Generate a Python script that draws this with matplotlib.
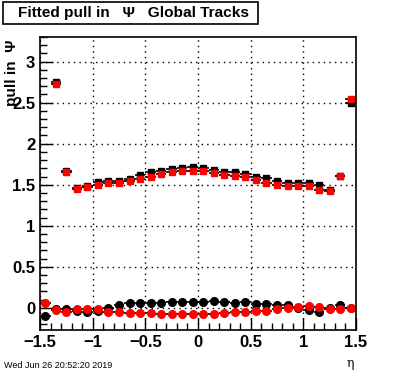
import numpy as np
import matplotlib
matplotlib.use("Agg")
import matplotlib.pyplot as plt
from matplotlib.ticker import MultipleLocator
from matplotlib.patches import Rectangle

# eta bin centres (30 bins from -1.5 to 1.5)
eta = np.round(np.arange(-1.45, 1.5, 0.1), 2)

# sigma of pull (upper band), first bin empty
sigma_black = [np.nan, 2.75, 1.67, 1.46, 1.49, 1.53, 1.54, 1.54, 1.57, 1.62,
               1.65, 1.67, 1.69, 1.70, 1.71, 1.70, 1.68, 1.66, 1.65, 1.63,
               1.60, 1.58, 1.55, 1.52, 1.52, 1.52, 1.50, 1.44, 1.61, 2.49]
sigma_red = [np.nan, 2.73, 1.65, 1.45, 1.47, 1.50, 1.52, 1.52, 1.54, 1.57,
             1.60, 1.63, 1.65, 1.67, 1.67, 1.67, 1.64, 1.62, 1.61, 1.59,
             1.56, 1.52, 1.50, 1.48, 1.48, 1.48, 1.44, 1.42, 1.61, 2.54]

# mean of pull (lower band)
mean_black = [-0.10, -0.02, -0.02, -0.04, -0.05, -0.04, 0.00, 0.04, 0.06, 0.06,
              0.06, 0.06, 0.07, 0.07, 0.07, 0.07, 0.08, 0.07, 0.06, 0.07,
              0.05, 0.05, 0.04, 0.03, 0.00, -0.03, -0.05, 0.00, 0.04, 0.00]
mean_red = [0.06, -0.03, -0.05, -0.02, -0.02, -0.02, -0.05, -0.05, -0.06, -0.06,
            -0.06, -0.07, -0.07, -0.07, -0.07, -0.07, -0.07, -0.06, -0.05, -0.05,
            -0.04, -0.04, -0.01, 0.00, 0.01, 0.02, 0.01, -0.01, -0.02, 0.00]

fig = plt.figure(figsize=(3.96, 3.72), dpi=100)
ax = fig.add_axes([40 / 396, 42 / 372, 316 / 396, 293 / 372])

font = "Liberation Sans"
err_kw = dict(xerr=0.05, yerr=0.012, linestyle="none", elinewidth=1.2, capsize=0)

ax.errorbar(eta, sigma_black, fmt="s", color="black", ms=5, **err_kw)
ax.errorbar(eta, sigma_red, fmt="s", color="red", ecolor="black", ms=5, **err_kw)
ax.errorbar(eta, mean_black, fmt="o", color="black", ms=5.5, **err_kw)
ax.errorbar(eta, mean_red, fmt="o", color="red", ecolor="black", ms=5.5, **err_kw)

ax.set_xlim(-1.5, 1.5)
ax.set_ylim(-0.27, 3.3)
ax.xaxis.set_minor_locator(MultipleLocator(0.1))
ax.yaxis.set_minor_locator(MultipleLocator(0.1))
ax.tick_params(which="both", direction="in", top=False, right=False, width=1)
ax.tick_params(which="major", length=9)
ax.tick_params(which="minor", length=5)
ax.grid(True, which="major", linestyle=(0, (1, 3)), color="black", linewidth=1)
ax.set_yticks([0, 0.5, 1, 1.5, 2, 2.5, 3])
ax.set_yticklabels(["0", "0.5", "1", "1.5", "2", "2.5", "3"], fontfamily=font,
                   fontweight="bold", fontsize=12)
ax.set_xticks([-1.5, -1, -0.5, 0, 0.5, 1, 1.5])
ax.set_xticklabels(["\u22121.5", "\u22121", "\u22120.5", "0", "0.5", "1", "1.5"],
                   fontfamily=font, fontweight="bold", fontsize=12)
for s in ax.spines.values():
    s.set_linewidth(1.2)

fig.text(12 / 396, 1 - 40 / 372, "pull in  \u03a8", rotation=90, ha="center", va="top",
         fontfamily=font, fontweight="bold", fontsize=11)
fig.text(350 / 396, 1 - 363 / 372, "\u03b7", ha="center", va="center",
         fontfamily="DejaVu Serif", fontsize=9)
fig.text(4 / 396, 1 - 366 / 372, "Wed Jun 26 20:52:20 2019", ha="left", va="center",
         fontfamily=font, fontsize=6.5)

# title box
fig.patches.append(Rectangle((3 / 396, 1 - 24 / 372), 255 / 396, 22 / 372,
                             transform=fig.transFigure, facecolor="white",
                             edgecolor="black", linewidth=1.2))
fig.text(18 / 396, 1 - 13 / 372, "Fitted pull in   \u03a8   Global Tracks", ha="left",
         va="center", fontfamily=font, fontweight="bold", fontsize=11.1)

fig.savefig("out.png", dpi=100)
